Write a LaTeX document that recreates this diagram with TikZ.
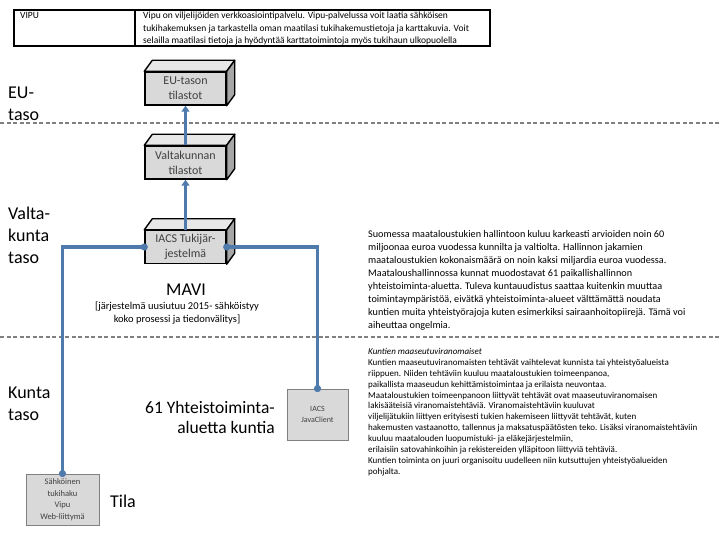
\documentclass[tikz,border=0pt]{standalone}
\usepackage{fontspec}
\setmainfont{Carlito}
\usetikzlibrary{arrows.meta,calc}
\definecolor{conncol}{RGB}{79,122,172}
\definecolor{sepgray}{RGB}{128,128,128}
\definecolor{frontgray}{RGB}{217,217,217}
\definecolor{topgray}{RGB}{232,232,232}
\definecolor{sidegray}{RGB}{166,166,166}
\definecolor{txtgray}{RGB}{64,64,64}
\begin{document}
\begin{tikzpicture}[x=1pt,y=-1pt,
  front/.style={draw=black,line width=1.4pt,fill=frontgray,minimum width=81pt,minimum height=33pt,inner sep=0pt,align=center,font=\fontsize{12}{15}\selectfont,text=txtgray},
  flatbox/.style={draw=sepgray,line width=0.8pt,fill=frontgray,inner sep=0pt,align=center,text=txtgray},
  connector/.style={draw=conncol,line width=3.2pt},
  sepline/.style={draw=sepgray,line width=2pt,dash pattern=on 4pt off 2.5pt},
  lvl/.style={anchor=west,align=left,inner sep=0pt,font=\fontsize{18}{22}\selectfont},
  para/.style={anchor=north west,align=left,inner sep=0pt}
]
\useasboundingbox (0,0) rectangle (720,540);
% separators
\draw[sepline] (0,123) -- (720,123);
\draw[sepline] (0,337) -- (720,337);
% table
\draw[line width=1.8pt] (14,10) rectangle (490,46);
\draw[line width=1.8pt] (135,10) -- (135,46);
\node[para,font=\fontsize{9.5}{12.3}\selectfont] (vipu) at (20,12) {VIPU};
\node[para,font=\fontsize{9.5}{12.3}\selectfont] (vipudesc) at (143,12) {Vipu on viljelijöiden verkkoasiointipalvelu. Vipu-palvelussa voit laatia sähköisen\\tukihakemuksen ja tarkastella oman maatilasi tukihakemustietoja ja karttakuvia. Voit\\selailla maatilasi tietoja ja hyödyntää karttatoimintoja myös tukihaun ulkopuolella};
% level labels
\node[lvl] (eutaso) at (8,103.5) {EU-\\taso};
\node[lvl] (valtaso) at (8,235) {Valta-\\kunta\\taso};
\node[lvl] (kuntaso) at (8,403.5) {Kunta\\taso};
% cuboids
\node[front] (eu) at (185.5,88.5) {EU-tason\\tilastot};
\node[front] (val) at (185.5,162.5) {Valtakunnan\\tilastot};
\node[front] (iacs) at (185.5,247) {IACS Tukijär-\\jestelmä};
\foreach \n in {eu,val,iacs}{
  \filldraw[fill=topgray,draw=black,line width=1.4pt,line join=round] (\n.north west) -- ++(8,-11) -- ([shift={(8,-11)}]\n.north east) -- (\n.north east) -- cycle;
  \filldraw[fill=sidegray,draw=black,line width=1.4pt,line join=round] (\n.north east) -- ++(8,-11) -- ([shift={(8,-11)}]\n.south east) -- (\n.south east) -- cycle;
}
% MAVI
\node[inner sep=0pt,font=\fontsize{18}{22}\selectfont] (mavi) at (186,290) {MAVI};
\node[inner sep=0pt,align=center,font=\fontsize{10.5}{13.5}\selectfont] (mavidesc) at (177,313) {[järjestelmä uusiutuu 2015- sähköistyy\\koko prosessi ja tiedonvälitys]};
% flat boxes
\node[flatbox,minimum width=61pt,minimum height=51pt,font=\fontsize{8}{11}\selectfont] (java) at (317.5,414.5) {IACS\\JavaClient};
\node[flatbox,minimum width=73pt,minimum height=51pt,font=\fontsize{8.5}{11.5}\selectfont] (sahk) at (62.5,499.5) {Sähköinen\\tukihaku\\Vipu\\Web-liittymä};
\node[anchor=east,align=right,inner sep=0pt,font=\fontsize{17.5}{20}\selectfont] (yht) at (275,417) {61 Yhteistoiminta-\\aluetta kuntia};
\node[anchor=west,inner sep=0pt,font=\fontsize{18}{22}\selectfont] (tila) at (110,501) {Tila};
% paragraphs
\node[para,font=\fontsize{10.2}{13.1}\selectfont] (p1) at (368,230) {Suomessa maataloustukien hallintoon kuluu karkeasti arvioiden noin 60\\miljoonaa euroa vuodessa kunnilta ja valtiolta. Hallinnon jakamien\\maataloustukien kokonaismäärä on noin kaksi miljardia euroa vuodessa.\\Maataloushallinnossa kunnat muodostavat 61 paikallishallinnon\\yhteistoiminta-aluetta. Tuleva kuntauudistus saattaa kuitenkin muuttaa\\toimintaympäristöä, eivätkä yhteistoiminta-alueet välttämättä noudata\\kuntien muita yhteistyörajoja kuten esimerkiksi sairaanhoitopiirejä. Tämä voi\\aiheuttaa ongelmia.};
\node[para,font=\fontsize{9}{10.9}\selectfont] (p2) at (368,348) {\textit{Kuntien maaseutuviranomaiset}\\Kuntien maaseutuviranomaisten tehtävät vaihtelevat kunnista tai yhteistyöalueista\\riippuen. Niiden tehtäviin kuuluu maataloustukien toimeenpanoa,\\paikallista maaseudun kehittämistoimintaa ja erilaista neuvontaa.\\Maataloustukien toimeenpanoon liittyvät tehtävät ovat maaseutuviranomaisen\\lakisääteisiä viranomaistehtäviä. Viranomaistehtäviin kuuluvat\\viljelijätukiin liittyen erityisesti tukien hakemiseen liittyvät tehtävät, kuten\\hakemusten vastaanotto, tallennus ja maksatuspäätösten teko. Lisäksi viranomaistehtäviin\\kuuluu maatalouden luopumistuki- ja eläkejärjestelmiin,\\erilaisiin satovahinkoihin ja rekistereiden ylläpitoon liittyviä tehtäviä.\\Kuntien toiminta on juuri organisoitu uudelleen niin kutsuttujen yhteistyöalueiden\\pohjalta.};
% connectors
\draw[connector,-{Triangle[length=6pt,width=8pt]}] (val.north) -- (eu.south);
\draw[connector,-{Triangle[length=6pt,width=8pt]}] (iacs.north) -- (val.south);
\draw[connector] (iacs.west) -- (iacs.west -| sahk.north) -- (sahk.north);
\draw[connector] (iacs.east) -- (iacs.east -| java.north) -- (java.north);
\foreach \p in {iacs.west,iacs.east,sahk.north,java.north}{
  \fill[conncol] (\p) circle (3.6pt);
}
\end{tikzpicture}
\end{document}
